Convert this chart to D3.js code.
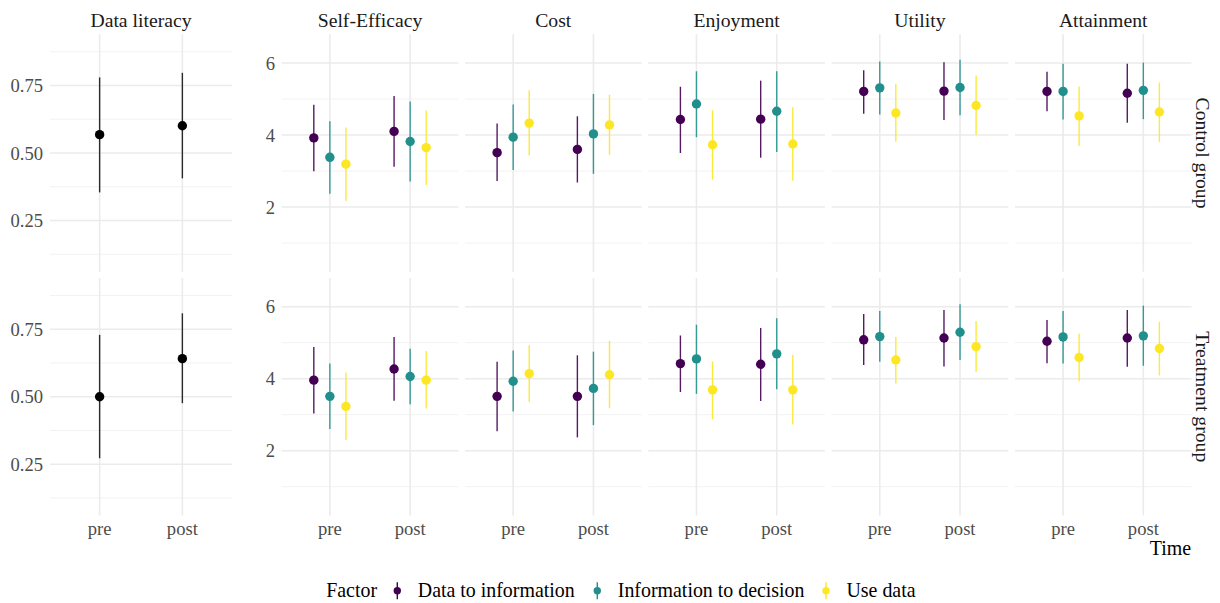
<!DOCTYPE html>
<html>
<head>
<meta charset="utf-8">
<script src="https://cdn.jsdelivr.net/npm/d3@7"></script>
<style>
  html, body { margin: 0; padding: 0; background: #fff; }
  svg { display: block; font-family: "Liberation Serif", "Times New Roman", serif; }
</style>
</head>
<body>
<svg id="chart" width="1220" height="603"></svg>
<script>
// ---- data: estimate with 95% interval, as [mean, lower, upper] ----
const times = ["pre", "post"];
const groups = ["Control group", "Treatment group"];
const factors = ["Data to information", "Information to decision", "Use data"];
const factorColors = ["#440154", "#21908C", "#FDE725"];
const constructs = ["Self-Efficacy", "Cost", "Enjoyment", "Utility", "Attainment"];
const literacyTicks = [0.25, 0.50, 0.75];
const scaleTicks = [2, 4, 6];

// Data literacy: one row per time (pre, post)
const literacyControl   = [[0.568, 0.354, 0.780], [0.601, 0.406, 0.797]];
const literacyTreatment = [[0.500, 0.272, 0.729], [0.641, 0.476, 0.809]];

// Motivation constructs: rows are pre x 3 factors, then post x 3 factors
const selfEfficacyControl = [
  [3.92, 2.99, 4.84], [3.38, 2.37, 4.38], [3.19, 2.17, 4.21],
  [4.10, 3.12, 5.08], [3.82, 2.71, 4.93], [3.65, 2.61, 4.68]];
const costControl = [
  [3.51, 2.72, 4.32], [3.94, 3.03, 4.85], [4.33, 3.43, 5.24],
  [3.60, 2.68, 4.52], [4.03, 2.92, 5.14], [4.28, 3.45, 5.12]];
const enjoymentControl = [
  [4.43, 3.50, 5.34], [4.86, 3.94, 5.77], [3.73, 2.76, 4.69],
  [4.44, 3.37, 5.51], [4.66, 3.53, 5.77], [3.75, 2.73, 4.77]];
const utilityControl = [
  [5.21, 4.59, 5.80], [5.31, 4.57, 6.04], [4.61, 3.81, 5.42],
  [5.22, 4.42, 6.02], [5.32, 4.55, 6.09], [4.82, 4.01, 5.65]];
const attainmentControl = [
  [5.21, 4.66, 5.76], [5.21, 4.43, 5.98], [4.53, 3.70, 5.35],
  [5.16, 4.34, 5.98], [5.24, 4.44, 6.01], [4.64, 3.81, 5.46]];

const selfEfficacyTreatment = [
  [3.96, 3.03, 4.88], [3.51, 2.60, 4.42], [3.23, 2.30, 4.17],
  [4.27, 3.39, 5.16], [4.06, 3.29, 4.83], [3.96, 3.17, 4.77]];
const costTreatment = [
  [3.51, 2.54, 4.47], [3.93, 3.09, 4.78], [4.14, 3.35, 4.93],
  [3.51, 2.37, 4.65], [3.73, 2.71, 4.75], [4.11, 3.18, 5.05]];
const enjoymentTreatment = [
  [4.42, 3.63, 5.20], [4.55, 3.58, 5.50], [3.69, 2.87, 4.48],
  [4.40, 3.38, 5.41], [4.69, 3.71, 5.68], [3.69, 2.73, 4.66]];
const utilityTreatment = [
  [5.08, 4.38, 5.80], [5.17, 4.47, 5.88], [4.52, 3.87, 5.16],
  [5.13, 4.34, 5.91], [5.29, 4.52, 6.07], [4.89, 4.19, 5.60]];
const attainmentTreatment = [
  [5.04, 4.43, 5.63], [5.16, 4.42, 5.88], [4.59, 3.93, 5.25],
  [5.13, 4.33, 5.91], [5.19, 4.36, 6.03], [4.84, 4.09, 5.58]];

const constructData = [
  [selfEfficacyControl, costControl, enjoymentControl, utilityControl, attainmentControl],
  [selfEfficacyTreatment, costTreatment, enjoymentTreatment, utilityTreatment, attainmentTreatment]
];
const literacyData = [literacyControl, literacyTreatment];

// ---- layout ----
const svg = d3.select("#chart");
const rows = [{ top: 34.2, bottom: 271.8 }, { top: 277.9, bottom: 515.5 }];
const litPanel = { x0: 50, x1: 232 };
const conPanel = { x0: 281.7, width: 176.6, step: 183.3 };

const gridMajor = "#ebebeb", gridMinor = "#f2f2f2";
const tickColor = "#4d4d4d", textColor = "#1a1a1a";
const dodge = [-0.2, 0, 0.2];
const stripSize = 19.7, tickSize = 18.6, legendSize = 19.9;

function drawPanel(g, x, y, yTicks, yMinor, xLeft, xRight, yTop, yBottom) {
  g.selectAll("line.minor").data(yMinor).join("line")
    .attr("x1", xLeft).attr("x2", xRight)
    .attr("y1", d => y(d)).attr("y2", d => y(d))
    .attr("stroke", gridMinor).attr("stroke-width", 1);
  g.selectAll("line.major").data(yTicks).join("line")
    .attr("x1", xLeft).attr("x2", xRight)
    .attr("y1", d => y(d)).attr("y2", d => y(d))
    .attr("stroke", gridMajor).attr("stroke-width", 1.6);
  g.selectAll("line.vgrid").data(times).join("line")
    .attr("x1", (d, i) => x(i + 1)).attr("x2", (d, i) => x(i + 1))
    .attr("y1", yTop).attr("y2", yBottom)
    .attr("stroke", gridMajor).attr("stroke-width", 1.6);
}

function yAxisLabels(y, ticks, fmt, xRightEdge) {
  svg.append("g").selectAll("text").data(ticks).join("text")
    .attr("x", xRightEdge).attr("y", d => y(d))
    .attr("dy", "0.35em").attr("text-anchor", "end")
    .attr("fill", tickColor).attr("font-size", tickSize)
    .text(fmt);
}

function xAxisLabels(x) {
  svg.append("g").selectAll("text").data(times).join("text")
    .attr("x", (d, i) => x(i + 1)).attr("y", 535)
    .attr("text-anchor", "middle")
    .attr("fill", tickColor).attr("font-size", tickSize)
    .text(d => d);
}

// ---- Data literacy column ----
{
  const x = d3.scaleLinear().domain([0.4, 2.6]).range([litPanel.x0, litPanel.x1]);
  rows.forEach((r, ri) => {
    const y = d3.scaleLinear().domain([0.06, 0.94]).range([r.bottom, r.top]);
    const g = svg.append("g");
    drawPanel(g, x, y, literacyTicks, [0.125, 0.375, 0.625, 0.875],
      litPanel.x0, litPanel.x1, r.top, r.bottom);
    yAxisLabels(y, literacyTicks, d3.format(".2f"), 43);
    const rowsData = literacyData[ri];
    g.selectAll("line.ci").data(rowsData).join("line")
      .attr("x1", (d, i) => x(i + 1)).attr("x2", (d, i) => x(i + 1))
      .attr("y1", d => y(d[1])).attr("y2", d => y(d[2]))
      .attr("stroke", "#2a2a2a").attr("stroke-width", 1.4);
    g.selectAll("circle").data(rowsData).join("circle")
      .attr("cx", (d, i) => x(i + 1)).attr("cy", d => y(d[0]))
      .attr("r", 4.7).attr("fill", "#000");
  });
  svg.append("text")
    .attr("x", (litPanel.x0 + litPanel.x1) / 2).attr("y", 26.5)
    .attr("text-anchor", "middle").attr("font-size", stripSize).attr("fill", textColor)
    .text("Data literacy");
  xAxisLabels(x);
}

// ---- Motivation construct columns ----
constructs.forEach((name, ci) => {
  const x0 = conPanel.x0 + ci * conPanel.step;
  const x1 = x0 + conPanel.width;
  const x = d3.scaleLinear().domain([0.4, 2.6]).range([x0, x1]);
  rows.forEach((r, ri) => {
    const y = d3.scaleLinear().domain([0.2, 6.8]).range([r.bottom, r.top]);
    const g = svg.append("g");
    drawPanel(g, x, y, scaleTicks, [1, 3, 5], x0, x1, r.top, r.bottom);
    if (ci === 0) yAxisLabels(y, scaleTicks, d3.format("d"), 275);
    const pts = constructData[ri][ci].map((d, k) => ({
      t: Math.floor(k / 3), f: k % 3, m: d[0], lo: d[1], hi: d[2]
    }));
    g.selectAll("line.ci").data(pts).join("line")
      .attr("x1", d => x(d.t + 1 + dodge[d.f])).attr("x2", d => x(d.t + 1 + dodge[d.f]))
      .attr("y1", d => y(d.lo)).attr("y2", d => y(d.hi))
      .attr("stroke", d => factorColors[d.f]).attr("stroke-width", 1.4)
      .attr("stroke-opacity", 0.9);
    g.selectAll("circle").data(pts).join("circle")
      .attr("cx", d => x(d.t + 1 + dodge[d.f])).attr("cy", d => y(d.m))
      .attr("r", 4.7).attr("fill", d => factorColors[d.f]);
  });
  svg.append("text")
    .attr("x", (x0 + x1) / 2).attr("y", 26.5)
    .attr("text-anchor", "middle").attr("font-size", stripSize).attr("fill", textColor)
    .text(name);
  xAxisLabels(x);
});

// ---- row strips on the right ----
rows.forEach((r, ri) => {
  const cy = (r.top + r.bottom) / 2;
  svg.append("text")
    .attr("transform", `translate(1203,${cy}) rotate(90)`)
    .attr("text-anchor", "middle").attr("dy", "0.35em")
    .attr("font-size", stripSize).attr("fill", textColor)
    .text(groups[ri]);
});

// ---- x-axis title ----
svg.append("text")
  .attr("x", 1191).attr("y", 555).attr("text-anchor", "end")
  .attr("font-size", legendSize).attr("fill", "#000").text("Time");

// ---- legend ----
{
  const lg = svg.append("g");
  const baseY = 597, keyY = 590.7;
  lg.append("text").attr("x", 326.2).attr("y", baseY)
    .attr("font-size", legendSize).attr("fill", "#000").text("Factor");
  const keyX = [397.3, 597.3, 826];
  factors.forEach((f, i) => {
    lg.append("line")
      .attr("x1", keyX[i]).attr("x2", keyX[i])
      .attr("y1", keyY - 8.5).attr("y2", keyY + 8.5)
      .attr("stroke", factorColors[i]).attr("stroke-width", 1.4);
    lg.append("circle").attr("cx", keyX[i]).attr("cy", keyY)
      .attr("r", 3.7).attr("fill", factorColors[i]);
    lg.append("text").attr("x", keyX[i] + 20.5).attr("y", baseY)
      .attr("font-size", legendSize).attr("fill", "#000").text(f);
  });
}
</script>
</body>
</html>
